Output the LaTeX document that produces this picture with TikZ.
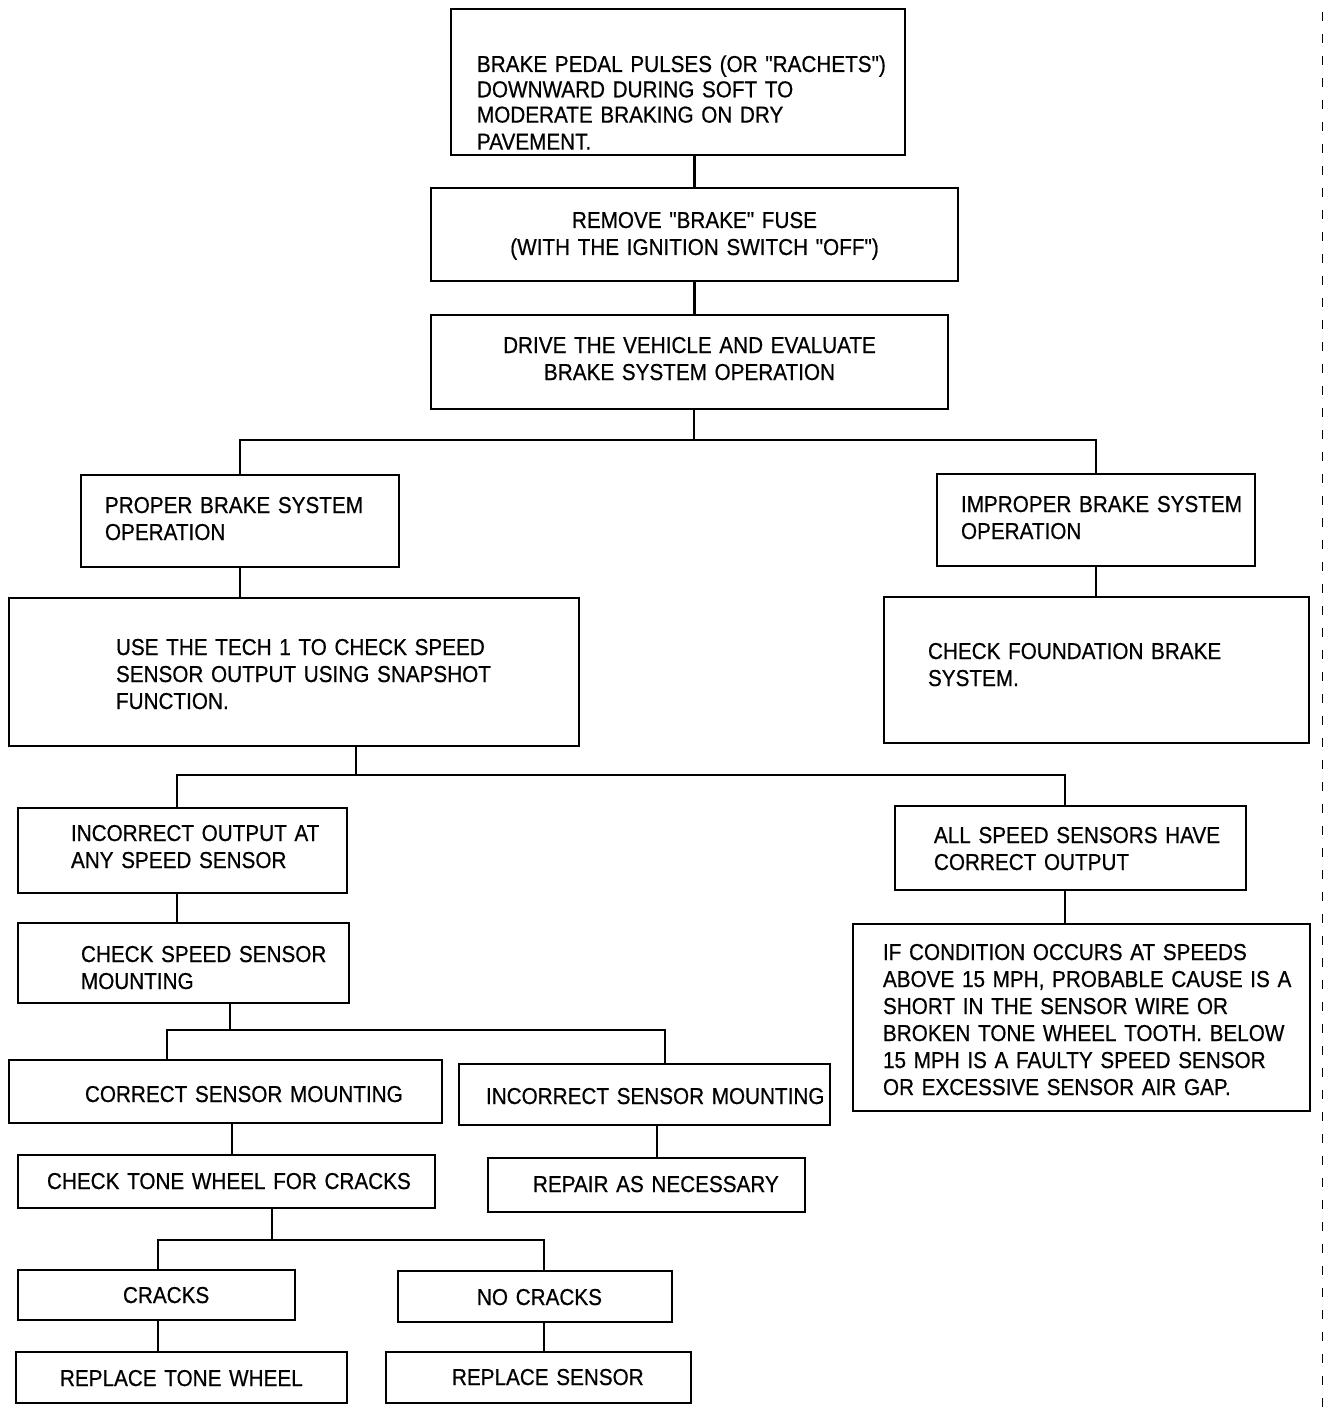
\documentclass[tikz,border=0pt]{standalone}
\usepackage{fontspec}
\setmainfont{Liberation Sans}[FakeStretch=0.9, FakeBold=0.6, Ligatures=TeXOff]
\newcommand{\oneline}[1]{\mbox{#1}}
\newcommand{\flowbox}[9]{%
  \pgfmathsetmacro\fbW{#4-#2}%
  \pgfmathsetmacro\fbH{#5-#3}%
  \pgfmathsetmacro\fbX{(#2+#4)/2}%
  \pgfmathsetmacro\fbY{(#3+#5)/2}%
  \pgfmathsetmacro\fbT{#4-#2-2*#6}%
  \pgfmathsetmacro\fbO{2*(#7-(#3+#5)/2)}%
  \pgfmathsetmacro\fbA{max(\fbO,0)}%
  \pgfmathsetmacro\fbD{max(-\fbO,0)}%
  \node[flow, minimum width=\fbW pt, minimum height=\fbH pt, text width=\fbT pt,
        text height=\fbA pt, text depth=\fbD pt, align=#8] (#1) at (\fbX,\fbY) {#9};%
}
\begin{document}
\begin{tikzpicture}[x=1pt,y=-1pt,
  flow/.style={draw, line width=2.6pt, inner sep=0pt, font=\fontsize{23}{27}\selectfont},
  conn/.style={line width=2.2pt}]
\useasboundingbox (0,0) rectangle (1328,1412);

\flowbox{b1}{451}{9}{905}{155}{26}{72}{left}{\fontsize{23}{25.3}\selectfont
  \oneline{BRAKE PEDAL PULSES (OR "RACHETS")}\\ \oneline{DOWNWARD DURING SOFT TO}\\
  \oneline{MODERATE BRAKING ON DRY}\\ \oneline{PAVEMENT.}}
\flowbox{b2}{431}{188}{958}{281}{20}{228}{center}{%
  \oneline{REMOVE "BRAKE" FUSE}\\ \oneline{(WITH THE IGNITION SWITCH "OFF")}}
\flowbox{b3}{431}{315}{948}{409}{20}{353}{center}{%
  \oneline{DRIVE THE VEHICLE AND EVALUATE}\\ \oneline{BRAKE SYSTEM OPERATION}}
\flowbox{b4}{81}{475}{399}{567}{24}{513}{left}{%
  \oneline{PROPER BRAKE SYSTEM}\\ \oneline{OPERATION}}
\flowbox{b5}{937}{474}{1255}{566}{24}{512}{left}{%
  \oneline{IMPROPER BRAKE SYSTEM}\\ \oneline{OPERATION}}
\flowbox{b6}{9}{598}{579}{746}{107}{655}{left}{%
  \oneline{USE THE TECH 1 TO CHECK SPEED}\\ \oneline{SENSOR OUTPUT USING SNAPSHOT}\\
  \oneline{FUNCTION.}}
\flowbox{b7}{884}{597}{1309}{743}{44}{659}{left}{%
  \oneline{CHECK FOUNDATION BRAKE}\\ \oneline{SYSTEM.}}
\flowbox{b8}{18}{808}{347}{893}{53}{841}{left}{%
  \oneline{INCORRECT OUTPUT AT}\\ \oneline{ANY SPEED SENSOR}}
\flowbox{b9}{895}{806}{1246}{890}{39}{843}{left}{%
  \oneline{ALL SPEED SENSORS HAVE}\\ \oneline{CORRECT OUTPUT}}
\flowbox{b10}{18}{923}{349}{1003}{63}{962}{left}{%
  \oneline{CHECK SPEED SENSOR}\\ \oneline{MOUNTING}}
\flowbox{b11}{853}{924}{1310}{1111}{30}{960}{left}{%
  \oneline{IF CONDITION OCCURS AT SPEEDS}\\ \oneline{ABOVE 15 MPH, PROBABLE CAUSE IS A}\\
  \oneline{SHORT IN THE SENSOR WIRE OR}\\ \oneline{BROKEN TONE WHEEL TOOTH. BELOW}\\
  \oneline{15 MPH IS A FAULTY SPEED SENSOR}\\ \oneline{OR EXCESSIVE SENSOR AIR GAP.}}
\flowbox{b12}{9}{1060}{442}{1123}{76}{1102}{left}{\oneline{CORRECT SENSOR MOUNTING}}
\flowbox{b13}{459}{1064}{830}{1125}{27}{1104}{left}{\oneline{INCORRECT SENSOR MOUNTING}}
\flowbox{b14}{18}{1155}{435}{1208}{29}{1189}{left}{\oneline{CHECK TONE WHEEL FOR CRACKS}}
\flowbox{b15}{488}{1158}{805}{1212}{45}{1192}{left}{\oneline{REPAIR AS NECESSARY}}
\flowbox{b16}{18}{1270}{295}{1320}{105}{1303}{left}{\oneline{CRACKS}}
\flowbox{b17}{398}{1271}{672}{1322}{79}{1305}{left}{\oneline{NO CRACKS}}
\flowbox{b18}{16}{1352}{347}{1403}{44}{1386}{left}{\oneline{REPLACE TONE WHEEL}}
\flowbox{b19}{386}{1352}{691}{1403}{66}{1385}{left}{\oneline{REPLACE SENSOR}}

% junction points
\coordinate (j1) at (694,440);
\coordinate (j2) at (356,775);
\coordinate (j2l) at (177,775);
\coordinate (j2r) at (1065,775);
\coordinate (j3) at (230,1030);
\coordinate (j3l) at (167,1030);
\coordinate (j3r) at (665,1030);
\coordinate (x12) at (232,0);
\coordinate (x13) at (657,0);
\coordinate (j4) at (272,1240);
\coordinate (j4l) at (158,1240);
\coordinate (j4r) at (544,1240);

\draw[conn] (b1.south -| b2.north) -- (b2.north);
\draw[conn] (b2.south) -- (b2.south |- b3.north);
\draw[conn] (b3.south -| j1) -- (j1);
\draw[conn] (b4.north) |- (j1) -| (b5.north);
\draw[conn] (b4.south) -- (b4.south |- b6.north);
\draw[conn] (b5.south) -- (b5.south |- b7.north);
\draw[conn] (b6.south -| j2) -- (j2);
\draw[conn] (b8.north -| j2l) -- (j2l) -- (j2r) -- (b9.north -| j2r);
\draw[conn] (b8.south -| j2l) -- (b10.north -| j2l);
\draw[conn] (b9.south -| j2r) -- (b11.north -| j2r);
\draw[conn] (b10.south -| j3) -- (j3);
\draw[conn] (b12.north -| j3l) -- (j3l) -- (j3r) -- (b13.north -| j3r);
\draw[conn] (b12.south -| x12) -- (b14.north -| x12);
\draw[conn] (b13.south -| x13) -- (b15.north -| x13);
\draw[conn] (b14.south -| j4) -- (j4);
\draw[conn] (b16.north -| j4l) -- (j4l) -- (j4r) -- (b17.north -| j4r);
\draw[conn] (b16.south -| j4l) -- (b18.north -| j4l);
\draw[conn] (b17.south -| j4r) -- (b19.north -| j4r);

% scan edge dotted line
\draw[line width=1pt, dash pattern=on 9pt off 13pt] (1322,12) -- (1322,1412);
\end{tikzpicture}
\end{document}
